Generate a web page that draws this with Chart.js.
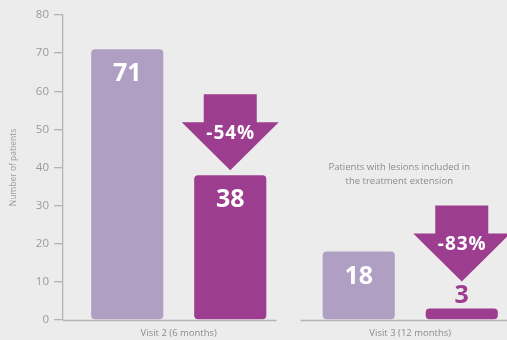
<!DOCTYPE html>
<html>
<head>
<meta charset="utf-8">
<script src="https://cdn.jsdelivr.net/npm/chart.js@4"></script>
<style>
  html, body { margin: 0; padding: 0; background: #ececec; overflow: hidden; width: 507px; height: 340px; }
  #wrap { width: 526px; height: 340px; }
  canvas { display: block; }
</style>
</head>
<body>
<div id="wrap"><canvas id="c" width="526" height="340"></canvas></div>
<script>
// Visits and patient counts
const visits = ["Visit 2 (6 months)", "Visit 3 (12 months)"];
const baselinePatients = [71, 18];
const followUpPatients = [38, 3];
const reductions = ["-54%", "-83%"];
const yTickValues = [0, 10, 20, 30, 40, 50, 60, 70, 80];
const noteLines = ["Patients with lesions included in", "the treatment extension"];
const yTitle = "Number of patients";

const LIGHT = '#ae9fc3';
const DARK = '#9c3d8f';
const AXIS = '#b4b4b4';
const TICK_TEXT = '#9a9a9a';
const FONT = "'Open Sans', sans-serif";

// Draws the split baseline, value labels, reduction arrows and the note
const overlay = {
  id: 'overlay',
  afterDatasetsDraw(chart) {
    const ctx = chart.ctx;
    const area = chart.chartArea;
    const yScale = chart.scales.y;
    const m0 = chart.getDatasetMeta(0).data;
    const m1 = chart.getDatasetMeta(1).data;
    ctx.save();

    // baseline with a break between the two visits
    const gapMid = (m1[0].x + m1[0].width / 2 + m0[1].x - m0[1].width / 2) / 2 - 6;
    ctx.strokeStyle = AXIS;
    ctx.lineWidth = 1.3;
    ctx.beginPath();
    ctx.moveTo(area.left, area.bottom + 0.5);
    ctx.lineTo(gapMid - 12, area.bottom + 0.5);
    ctx.moveTo(gapMid + 12, area.bottom + 0.5);
    ctx.lineTo(area.right, area.bottom + 0.5);
    ctx.stroke();

    // value labels
    const labelInfo = (bar) => {
      const inside = (bar.base - bar.y) > 40;
      return { inside, y: inside ? bar.y + 25 : bar.y - 13 };
    };
    ctx.textAlign = 'center';
    ctx.textBaseline = 'middle';
    ctx.font = `700 25px ${FONT}`;
    [[m0, baselinePatients], [m1, followUpPatients]].forEach(([bars, vals]) => {
      bars.forEach((bar, i) => {
        const info = labelInfo(bar);
        ctx.fillStyle = info.inside ? '#ffffff' : DARK;
        ctx.fillText(String(vals[i]), bar.x, info.y);
      });
    });

    // reduction arrows above the follow-up bars
    const headW = 97, headH = 48, shaftW = 53, shaftH = 28;
    m1.forEach((bar, i) => {
      const info = labelInfo(bar);
      const apex = info.inside ? bar.y - 5 : info.y - 14;
      const headTop = apex - headH;
      const cx = bar.x;
      ctx.fillStyle = DARK;
      ctx.beginPath();
      ctx.moveTo(cx - shaftW / 2, headTop - shaftH);
      ctx.lineTo(cx + shaftW / 2, headTop - shaftH);
      ctx.lineTo(cx + shaftW / 2, headTop);
      ctx.lineTo(cx + headW / 2, headTop);
      ctx.lineTo(cx, apex);
      ctx.lineTo(cx - headW / 2, headTop);
      ctx.lineTo(cx - shaftW / 2, headTop);
      ctx.closePath();
      ctx.fill();
      ctx.fillStyle = '#ffffff';
      ctx.font = `700 19px ${FONT}`;
      ctx.letterSpacing = '1px';
      ctx.fillText(reductions[i], cx + 0.5, headTop + 11);
      ctx.letterSpacing = '0px';
    });

    // note above the second visit
    ctx.fillStyle = '#8c8c8c';
    ctx.font = `400 9.5px ${FONT}`;
    const nx = (m0[1].x + m1[1].x) / 2 - 11;
    const ny = yScale.getPixelForValue(40);
    noteLines.forEach((line, k) => ctx.fillText(line, nx, ny + k * 13.5));

    ctx.restore();
  }
};

new Chart(document.getElementById('c'), {
  type: 'bar',
  data: {
    labels: visits,
    datasets: [
      { data: baselinePatients, backgroundColor: LIGHT, borderRadius: 4, borderSkipped: false },
      { data: followUpPatients, backgroundColor: DARK, borderRadius: 4, borderSkipped: false }
    ]
  },
  options: {
    responsive: false,
    animation: false,
    layout: { padding: { top: 15, left: 0, right: 0, bottom: 0 } },
    datasets: { bar: { categoryPercentage: 0.89, barPercentage: 0.70 } },
    plugins: { legend: { display: false }, tooltip: { enabled: false } },
    scales: {
      x: {
        afterFit: (scale) => { scale.height = 20; },
        grid: { display: false, drawTicks: false },
        border: { display: false },
        ticks: { color: '#8c8c8c', font: { family: FONT, size: 9.5 }, padding: 8 }
      },
      y: {
        min: 0,
        max: 80,
        afterBuildTicks: (scale) => { scale.ticks = yTickValues.map(v => ({ value: v })); },
        afterFit: (scale) => { scale.width = 63; },
        grid: { drawOnChartArea: false, drawTicks: true, tickLength: 9, color: AXIS, lineWidth: 1.3 },
        border: { color: AXIS, width: 1.3 },
        ticks: { color: TICK_TEXT, font: { family: FONT, size: 11.5 }, padding: 5 },
        title: {
          display: true,
          text: yTitle,
          color: '#9a9a9a',
          font: { family: FONT, size: 8.5 },
          padding: { top: 8, bottom: 0 }
        }
      }
    }
  },
  plugins: [overlay]
});
</script>
</body>
</html>
